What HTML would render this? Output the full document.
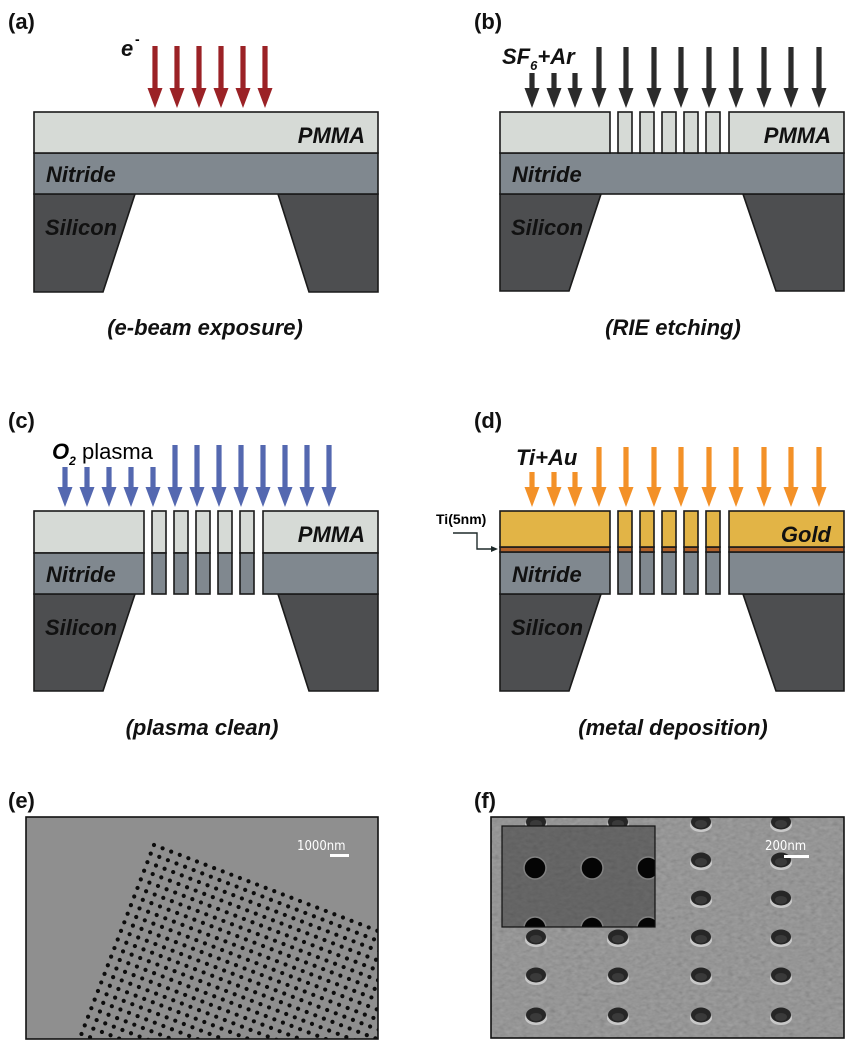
<!DOCTYPE html>
<html><head><meta charset="utf-8"><style>
body{margin:0;background:#fff;}
svg{display:block;}
.lab{font:bold 22px "Liberation Sans",sans-serif;fill:#111;}
.ly{font:italic bold 22px "Liberation Sans",sans-serif;fill:#111;}
.cap{font:italic bold 22px "Liberation Sans",sans-serif;fill:#111;}
</style></head><body>
<svg id="s" width="853" height="1050" viewBox="0 0 853 1050" xmlns="http://www.w3.org/2000/svg">
<defs>
<filter id="noise" x="0" y="0" width="100%" height="100%">
<feTurbulence type="fractalNoise" baseFrequency="0.9" numOctaves="2" seed="3"/>
<feColorMatrix type="matrix" values="0 0 0 0 0.55  0 0 0 0 0.55  0 0 0 0 0.55  0 0 0 0 0"/>
</filter>
<filter id="noise2" x="0" y="0" width="100%" height="100%">
<feTurbulence type="fractalNoise" baseFrequency="0.18 0.3" numOctaves="2" seed="7" result="t"/>
<feColorMatrix in="t" type="matrix" values="0.33 0.33 0.33 0 0  0.33 0.33 0.33 0 0  0.33 0.33 0.33 0 0  0 0 0 0 0.3"/>
</filter>
<clipPath id="ce"><rect x="26" y="817" width="352" height="222"/></clipPath>
<clipPath id="cf"><rect x="491" y="817" width="353" height="221"/></clipPath>
<clipPath id="ci"><rect x="502" y="826" width="153" height="101"/></clipPath>
</defs>
<g id="g"></g>

<text class="lab" x="8" y="29">(a)</text>
<text class="lab" x="474" y="29">(b)</text>
<text class="lab" x="8" y="428">(c)</text>
<text class="lab" x="474" y="428">(d)</text>
<text class="lab" x="8" y="808">(e)</text>
<text class="lab" x="474" y="808">(f)</text>

<text class="ly" x="121" y="56">e</text><text x="135" y="44" style="font:bold 14px 'Liberation Sans',sans-serif">-</text>
<text class="ly" x="502" y="64">SF<tspan font-size="13" dy="6">6</tspan><tspan dy="-6">+Ar</tspan></text>
<text x="52" y="459" style="font:bold italic 22px 'Liberation Sans',sans-serif">O<tspan font-size="12" dy="6">2</tspan></text>
<text x="82" y="459" style="font:22px 'Liberation Sans',sans-serif">plasma</text>
<text class="ly" x="516" y="465">Ti+Au</text>
<text x="436" y="524" style="font:bold 14px 'Liberation Sans',sans-serif">Ti(5nm)</text>

<text class="cap" x="205" y="335" text-anchor="middle">(e-beam exposure)</text>
<text class="cap" x="673" y="335" text-anchor="middle">(RIE etching)</text>
<text class="cap" x="202" y="735" text-anchor="middle">(plasma clean)</text>
<text class="cap" x="673" y="735" text-anchor="middle">(metal deposition)</text>
</svg>
<script>
const NS="http://www.w3.org/2000/svg",g=document.getElementById('g');
function el(t,a,p){const e=document.createElementNS(NS,t);for(const k in a)e.setAttribute(k,a[k]);(p||g).appendChild(e);return e;}
function rect(x,y,w,h,f){el('rect',{x,y,width:w,height:h,fill:f,stroke:'#1a1a1a','stroke-width':1.6});}
function arrow(x,y0,tip,c){el('polygon',{points:`${x-2.6},${y0} ${x+2.6},${y0} ${x+2.6},${tip-20} ${x+7.5},${tip-20} ${x},${tip} ${x-7.5},${tip-20} ${x-2.6},${tip-20}`,fill:c});}
function silicon(L,R,top,bot,lt,lb,rt,rb){
 el('polygon',{points:`${L},${top} ${lt},${top} ${lb},${bot} ${L},${bot}`,fill:'#4d4e50',stroke:'#1a1a1a','stroke-width':1.6});
 el('polygon',{points:`${rt},${top} ${R},${top} ${R},${bot} ${rb},${bot}`,fill:'#4d4e50',stroke:'#1a1a1a','stroke-width':1.6});
}
const PM='#d6dad6',NI='#80888f',GO='#e2b446',TI='#b0602a';
const pil=[0,22,44,66,88];
silicon(34,378,194,292,135,103,278,309);
rect(34,153,344,41,NI);rect(34,112,344,41,PM);
[155,177,199,221,243,265].forEach(x=>arrow(x,46,108,'#9b2226'));
silicon(500,844,194,291,601,569,743,776);
rect(500,153,344,41,NI);
rect(500,112,110,41,PM);rect(729,112,115,41,PM);
pil.forEach(d=>rect(618+d,112,14,41,PM));
[532,554,575].forEach(x=>arrow(x,73,108,'#2b2b2b'));
[599,626,654,681,709,736,764,791,819].forEach(x=>arrow(x,47,108,'#2b2b2b'));
silicon(34,378,594,691,135,103,278,309);
rect(34,511,110,42,PM);rect(34,553,110,41,NI);
rect(263,511,115,42,PM);rect(263,553,115,41,NI);
pil.forEach(d=>{rect(152+d,511,14,42,PM);rect(152+d,553,14,41,NI);});
[65,87,109,131,153].forEach(x=>arrow(x,467,507,'#5468b0'));
[175,197,219,241,263,285,307,329].forEach(x=>arrow(x,445,507,'#5468b0'));
silicon(500,844,594,691,601,569,743,776);
function dstack(x,w){rect(x,552,w,42,NI);rect(x,547,w,5,TI);rect(x,511,w,36,GO);}
dstack(500,110);dstack(729,115);pil.forEach(d=>dstack(618+d,14));
[532,554,575].forEach(x=>arrow(x,472,507,'#f39128'));
[599,626,654,681,709,736,764,791,819].forEach(x=>arrow(x,447,507,'#f39128'));
el('polyline',{points:'453,533 477,533 477,549 492,549',fill:'none',stroke:'#1e2a2a','stroke-width':1.4});
el('polygon',{points:'498,549 491,546 491,552',fill:'#1e2a2a'});
function t(x,y,s,a){const e=el('text',{x,y,class:'ly'});if(a)e.setAttribute('text-anchor',a);e.textContent=s;}
t(365,143,'PMMA','end');t(46,182,'Nitride');t(45,235,'Silicon');
t(831,143,'PMMA','end');t(512,182,'Nitride');t(511,235,'Silicon');
t(365,542,'PMMA','end');t(46,582,'Nitride');t(45,635,'Silicon');
t(831,542,'Gold','end');t(512,582,'Nitride');t(511,635,'Silicon');
// (e)
el('rect',{x:26,y:817,width:352,height:222,fill:'#8f8f8f'});
el('rect',{x:26,y:817,width:352,height:222,filter:'url(#noise)',opacity:0.2});
const ge=el('g',{'clip-path':'url(#ce)'});
const a=21*Math.PI/180,ux=Math.cos(a),uy=Math.sin(a),vx=-Math.sin(a),vy=Math.cos(a),sp=9.2;
for(let i=0;i<40;i++)for(let j=0;j<40;j++){const x=154+i*sp*ux+j*sp*vx,y=845+i*sp*uy+j*sp*vy;
 if(x>20&&x<385&&y<1045)el('circle',{cx:x,cy:y,r:2.1,fill:'#0c0c0c'},ge);}
el('rect',{x:26,y:817,width:352,height:222,fill:'none',stroke:'#111','stroke-width':1.6});
el('rect',{x:330,y:854,width:19,height:3,fill:'#fff'});
const te=el('text',{x:297,y:850,fill:'#fff',style:'font:13px "DejaVu Sans Condensed","Liberation Sans",sans-serif'});te.textContent='1000nm';
// (f)
el('rect',{x:491,y:817,width:353,height:221,fill:'#858585'});
el('rect',{x:491,y:817,width:353,height:221,filter:'url(#noise2)'});
const gf=el('g',{'clip-path':'url(#cf)'});
[536,618,701,781].forEach(x=>[822,860,898,937,975,1015].forEach(y=>{
 el('ellipse',{cx:x,cy:y+3,rx:11,ry:7,fill:'#c8c8c8'},gf);
 el('ellipse',{cx:x,cy:y,rx:10,ry:7.5,fill:'#262626'},gf);
 el('ellipse',{cx:x,cy:y+2,rx:6,ry:4,fill:'#3a3a3a'},gf);}));
el('rect',{x:502,y:826,width:153,height:101,fill:'#555'});
el('rect',{x:502,y:826,width:153,height:101,filter:'url(#noise2)',opacity:0.5});
const gi=el('g',{'clip-path':'url(#ci)'});
[535,592,648].forEach(x=>[868,928].forEach(y=>el('circle',{cx:x,cy:y,r:11,fill:'#050505',stroke:'#808080','stroke-width':1.5},gi)));
el('rect',{x:502,y:826,width:153,height:101,fill:'none',stroke:'#111','stroke-width':1.2});
el('rect',{x:491,y:817,width:353,height:221,fill:'none',stroke:'#111','stroke-width':1.6});
el('rect',{x:784,y:855,width:25,height:3,fill:'#fff'});
const tf=el('text',{x:765,y:850,fill:'#fff',style:'font:13px "DejaVu Sans Condensed","Liberation Sans",sans-serif'});tf.textContent='200nm';
</script>
</body></html>
